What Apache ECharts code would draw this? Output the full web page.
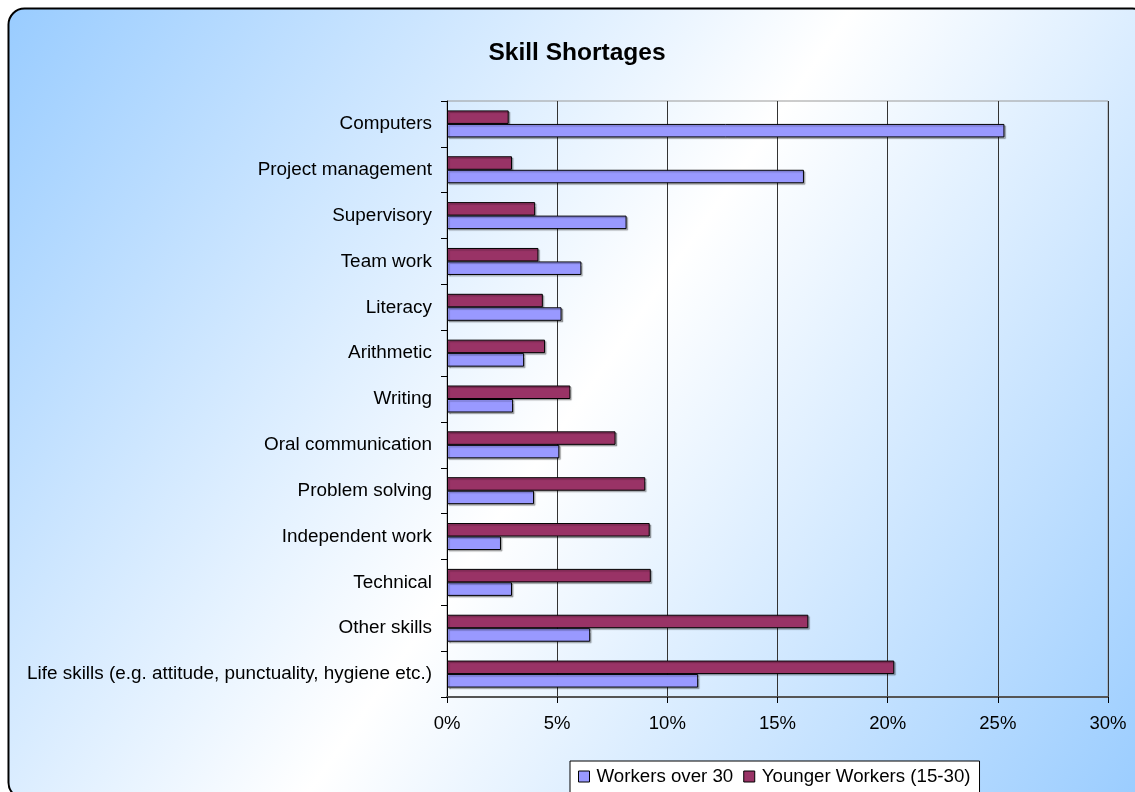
<!DOCTYPE html>
<html>
<head>
<meta charset="utf-8">
<title>Skill Shortages</title>
<script src="https://cdn.jsdelivr.net/npm/echarts@6/dist/echarts.min.js"></script>
<style>
  html, body { margin: 0; padding: 0; background: #ffffff; }
  #chart { width: 1135px; height: 792px; }
</style>
</head>
<body>
<div id="chart"></div>
<script>
// Skill categories, listed top to bottom
const categories = [
  'Computers',
  'Project management',
  'Supervisory',
  'Team work',
  'Literacy',
  'Arithmetic',
  'Writing',
  'Oral communication',
  'Problem solving',
  'Independent work',
  'Technical',
  'Other skills',
  'Life skills (e.g. attitude, punctuality, hygiene etc.)'
];

// Share of employers reporting a shortage (%)
const workersOver30 = [25.3, 16.2, 8.15, 6.1, 5.2, 3.5, 3.0, 5.1, 3.95, 2.45, 2.95, 6.5, 11.4];
const youngerWorkers = [2.8, 2.95, 4.0, 4.15, 4.35, 4.45, 5.6, 7.65, 9.0, 9.2, 9.25, 16.4, 20.3];

const seriesNames = ['Workers over 30', 'Younger Workers (15-30)'];
const xTicks = { min: 0, max: 30, step: 5 };

const FONT = '"Liberation Sans", Arial, sans-serif';
const chart = echarts.init(document.getElementById('chart'), null, { renderer: 'canvas' });

const barStyle = (color) => ({
  color: color,
  borderColor: '#000000',
  borderWidth: 1,
  shadowColor: 'rgba(0,0,0,0.28)',
  shadowOffsetX: 1.5,
  shadowOffsetY: 1.5,
  shadowBlur: 1
});

chart.setOption({
  animation: false,
  textStyle: { fontFamily: FONT, color: '#000' },
  graphic: [{
    type: 'rect',
    z: -10,
    silent: true,
    shape: { x: 8.5, y: 8.5, width: 1140, height: 790, r: 16 },
    style: {
      fill: new echarts.graphic.LinearGradient(0, 0, 1, 1, [
        { offset: 0, color: '#99CCFF' },
        { offset: 0.5, color: '#FFFFFF' },
        { offset: 1, color: '#99CCFF' }
      ]),
      stroke: '#000000',
      lineWidth: 2
    }
  }],
  title: {
    text: 'Skill Shortages',
    left: 572,
    textAlign: 'center',
    top: 36,
    textStyle: { fontSize: 24.5, fontWeight: 'bold', color: '#000', fontFamily: FONT }
  },
  legend: {
    data: seriesNames,
    left: 570,
    top: 761,
    orient: 'horizontal',
    backgroundColor: '#FFFFFF',
    borderColor: '#000000',
    borderWidth: 1,
    borderRadius: 0,
    padding: [6, 9, 12, 8],
    itemWidth: 11,
    itemHeight: 11,
    itemGap: 10,
    icon: 'rect',
    itemStyle: { borderColor: '#000', borderWidth: 1, shadowBlur: 0, shadowOffsetX: 0, shadowOffsetY: 0 },
    textStyle: { fontSize: 18.7, color: '#000', fontFamily: FONT, padding: [0, 0, 0, 2] }
  },
  grid: {
    left: 447,
    right: 27,
    top: 101,
    bottom: 95,
    show: true,
    borderColor: '#9a9a9a',
    borderWidth: 1,
    backgroundColor: 'transparent',
    containLabel: false
  },
  xAxis: {
    type: 'value',
    min: xTicks.min,
    max: xTicks.max,
    interval: xTicks.step,
    axisLine: { show: true, lineStyle: { color: '#555555', width: 2 } },
    axisTick: { show: true, length: 6, lineStyle: { color: '#000' } },
    splitLine: { show: true, lineStyle: { color: '#333333', width: 1 } },
    axisLabel: {
      formatter: '{value}%',
      fontSize: 18.5,
      margin: 17,
      color: '#000',
      fontFamily: FONT
    }
  },
  yAxis: {
    type: 'category',
    data: categories,
    inverse: true,
    axisLine: { show: true, lineStyle: { color: '#000', width: 1 } },
    axisTick: { show: true, length: 6, lineStyle: { color: '#000' } },
    axisLabel: {
      fontSize: 18.9,
      margin: 15,
      color: '#000',
      fontFamily: FONT
    }
  },
  series: [
    {
      name: seriesNames[1],
      type: 'bar',
      data: youngerWorkers,
      barWidth: 13.5,
      barGap: '0%',
      itemStyle: barStyle('#993366')
    },
    {
      name: seriesNames[0],
      type: 'bar',
      data: workersOver30,
      barWidth: 13.5,
      barGap: '0%',
      itemStyle: barStyle('#9999FF')
    }
  ]
});
</script>
</body>
</html>
